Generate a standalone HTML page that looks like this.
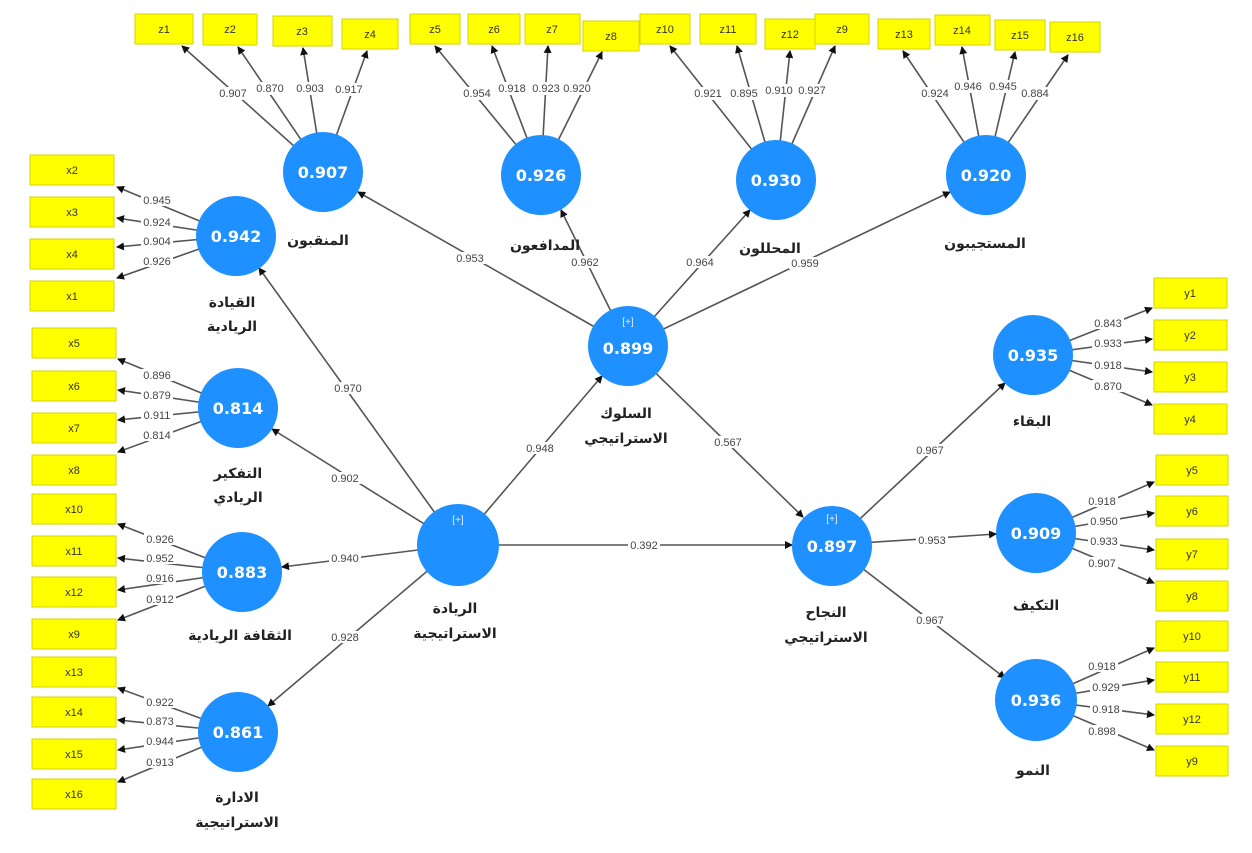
<!DOCTYPE html>
<html><head><meta charset="utf-8"><style>
html,body{margin:0;padding:0;background:#fff;}
svg{display:block;}
.b{fill:#ffff00;stroke:#d6d600;stroke-width:1;}
.bt{font-family:"Liberation Sans",sans-serif;font-size:11px;fill:#333;text-anchor:middle;}
.ln{stroke:#555;stroke-width:1.6;fill:none;}
.c{fill:#1e90ff;}
.ct{font-family:"DejaVu Sans","Liberation Sans",sans-serif;font-size:16px;font-weight:bold;fill:#fff;text-anchor:middle;}
.pl{font-family:"Liberation Sans",sans-serif;font-size:10px;fill:#e8f0ff;text-anchor:middle;}
.lb{font-family:"Liberation Sans",sans-serif;font-size:11px;fill:#444;text-anchor:middle;}
.ar{font-family:"DejaVu Sans","Noto Sans CJK SC",sans-serif;font-size:14px;font-weight:bold;fill:#222;text-anchor:middle;}
</style></head><body>
<svg width="1252" height="853" viewBox="0 0 1252 853" xmlns="http://www.w3.org/2000/svg">
<defs><marker id="a" markerWidth="8" markerHeight="8" refX="7" refY="4" orient="auto" markerUnits="userSpaceOnUse"><path d="M0,0 L8,4 L0,8 z" fill="#111"/></marker></defs>

<!-- boxes top -->
<g>
<rect class="b" x="135" y="14" width="58" height="30"/><text class="bt" x="164" y="33">z1</text>
<rect class="b" x="203" y="14" width="54" height="31"/><text class="bt" x="230" y="33">z2</text>
<rect class="b" x="273" y="16" width="59" height="30"/><text class="bt" x="302" y="35">z3</text>
<rect class="b" x="342" y="19" width="56" height="30"/><text class="bt" x="370" y="38">z4</text>
<rect class="b" x="410" y="14" width="50" height="30"/><text class="bt" x="435" y="33">z5</text>
<rect class="b" x="468" y="14" width="52" height="30"/><text class="bt" x="494" y="33">z6</text>
<rect class="b" x="525" y="14" width="55" height="30"/><text class="bt" x="552" y="33">z7</text>
<rect class="b" x="583" y="21" width="56" height="30"/><text class="bt" x="611" y="40">z8</text>
<rect class="b" x="640" y="14" width="50" height="30"/><text class="bt" x="665" y="33">z10</text>
<rect class="b" x="700" y="14" width="56" height="30"/><text class="bt" x="728" y="33">z11</text>
<rect class="b" x="765" y="19" width="50" height="30"/><text class="bt" x="790" y="38">z12</text>
<rect class="b" x="815" y="14" width="54" height="30"/><text class="bt" x="842" y="33">z9</text>
<rect class="b" x="878" y="19" width="52" height="30"/><text class="bt" x="904" y="38">z13</text>
<rect class="b" x="935" y="15" width="55" height="30"/><text class="bt" x="962" y="34">z14</text>
<rect class="b" x="995" y="20" width="50" height="30"/><text class="bt" x="1020" y="39">z15</text>
<rect class="b" x="1050" y="22" width="50" height="30"/><text class="bt" x="1075" y="41">z16</text>
</g>
<!-- boxes left -->
<g>
<rect class="b" x="30" y="155" width="84" height="30"/><text class="bt" x="72" y="174">x2</text>
<rect class="b" x="30" y="197" width="84" height="30"/><text class="bt" x="72" y="216">x3</text>
<rect class="b" x="30" y="239" width="84" height="30"/><text class="bt" x="72" y="258">x4</text>
<rect class="b" x="30" y="281" width="84" height="30"/><text class="bt" x="72" y="300">x1</text>
<rect class="b" x="32" y="328" width="84" height="30"/><text class="bt" x="74" y="347">x5</text>
<rect class="b" x="32" y="371" width="84" height="30"/><text class="bt" x="74" y="390">x6</text>
<rect class="b" x="32" y="413" width="84" height="30"/><text class="bt" x="74" y="432">x7</text>
<rect class="b" x="32" y="455" width="84" height="30"/><text class="bt" x="74" y="474">x8</text>
<rect class="b" x="32" y="494" width="84" height="30"/><text class="bt" x="74" y="513">x10</text>
<rect class="b" x="32" y="536" width="84" height="30"/><text class="bt" x="74" y="555">x11</text>
<rect class="b" x="32" y="577" width="84" height="30"/><text class="bt" x="74" y="596">x12</text>
<rect class="b" x="32" y="619" width="84" height="30"/><text class="bt" x="74" y="638">x9</text>
<rect class="b" x="32" y="657" width="84" height="30"/><text class="bt" x="74" y="676">x13</text>
<rect class="b" x="32" y="697" width="84" height="30"/><text class="bt" x="74" y="716">x14</text>
<rect class="b" x="32" y="739" width="84" height="30"/><text class="bt" x="74" y="758">x15</text>
<rect class="b" x="32" y="779" width="84" height="30"/><text class="bt" x="74" y="798">x16</text>
</g>
<!-- boxes right -->
<g>
<rect class="b" x="1154" y="278" width="73" height="30"/><text class="bt" x="1190" y="297">y1</text>
<rect class="b" x="1154" y="320" width="73" height="30"/><text class="bt" x="1190" y="339">y2</text>
<rect class="b" x="1154" y="362" width="73" height="30"/><text class="bt" x="1190" y="381">y3</text>
<rect class="b" x="1154" y="404" width="73" height="30"/><text class="bt" x="1190" y="423">y4</text>
<rect class="b" x="1156" y="455" width="72" height="30"/><text class="bt" x="1192" y="474">y5</text>
<rect class="b" x="1156" y="496" width="72" height="30"/><text class="bt" x="1192" y="515">y6</text>
<rect class="b" x="1156" y="539" width="72" height="30"/><text class="bt" x="1192" y="558">y7</text>
<rect class="b" x="1156" y="581" width="72" height="30"/><text class="bt" x="1192" y="600">y8</text>
<rect class="b" x="1156" y="621" width="72" height="30"/><text class="bt" x="1192" y="640">y10</text>
<rect class="b" x="1156" y="662" width="72" height="30"/><text class="bt" x="1192" y="681">y11</text>
<rect class="b" x="1156" y="704" width="72" height="30"/><text class="bt" x="1192" y="723">y12</text>
<rect class="b" x="1156" y="746" width="72" height="30"/><text class="bt" x="1192" y="765">y9</text>
</g>

<!-- lines -->
<g class="ln" marker-end="url(#a)">
<!-- 0.907 -->
<line x1="323" y1="172" x2="182" y2="46"/><line x1="323" y1="172" x2="238" y2="47"/><line x1="323" y1="172" x2="303" y2="48"/><line x1="323" y1="172" x2="367" y2="51"/>
<!-- 0.926 -->
<line x1="541" y1="175" x2="435" y2="46"/><line x1="541" y1="175" x2="492" y2="46"/><line x1="541" y1="175" x2="548" y2="46"/><line x1="541" y1="175" x2="602" y2="52"/>
<!-- 0.930 -->
<line x1="776" y1="180" x2="670" y2="46"/><line x1="776" y1="180" x2="737" y2="46"/><line x1="776" y1="180" x2="790" y2="51"/><line x1="776" y1="180" x2="835" y2="46"/>
<!-- 0.920 -->
<line x1="986" y1="175" x2="903" y2="51"/><line x1="986" y1="175" x2="962" y2="47"/><line x1="986" y1="175" x2="1015" y2="52"/><line x1="986" y1="175" x2="1068" y2="55"/>
<!-- left -->
<line x1="236" y1="236" x2="117" y2="187"/><line x1="236" y1="236" x2="117" y2="218"/><line x1="236" y1="236" x2="117" y2="247"/><line x1="236" y1="236" x2="117" y2="278"/>
<line x1="238" y1="408" x2="118" y2="359"/><line x1="238" y1="408" x2="118" y2="390"/><line x1="238" y1="408" x2="118" y2="420"/><line x1="238" y1="408" x2="118" y2="452"/>
<line x1="242" y1="572" x2="118" y2="524"/><line x1="242" y1="572" x2="118" y2="558"/><line x1="242" y1="572" x2="118" y2="590"/><line x1="242" y1="572" x2="118" y2="620"/>
<line x1="238" y1="732" x2="118" y2="688"/><line x1="238" y1="732" x2="118" y2="720"/><line x1="238" y1="732" x2="118" y2="750"/><line x1="238" y1="732" x2="118" y2="782"/>
<!-- right -->
<line x1="1033" y1="355" x2="1152" y2="308"/><line x1="1033" y1="355" x2="1152" y2="339"/><line x1="1033" y1="355" x2="1152" y2="372"/><line x1="1033" y1="355" x2="1152" y2="405"/>
<line x1="1036" y1="533" x2="1154" y2="482"/><line x1="1036" y1="533" x2="1154" y2="513"/><line x1="1036" y1="533" x2="1154" y2="550"/><line x1="1036" y1="533" x2="1154" y2="583"/>
<line x1="1036" y1="700" x2="1154" y2="648"/><line x1="1036" y1="700" x2="1154" y2="680"/><line x1="1036" y1="700" x2="1154" y2="715"/><line x1="1036" y1="700" x2="1154" y2="750"/>
<!-- structural -->
<line x1="458" y1="545" x2="259" y2="268"/>
<line x1="458" y1="545" x2="272" y2="429"/>
<line x1="458" y1="545" x2="282" y2="567"/>
<line x1="458" y1="545" x2="268" y2="706"/>
<line x1="458" y1="545" x2="602" y2="376"/>
<line x1="458" y1="545" x2="792" y2="545"/>
<line x1="628" y1="346" x2="358" y2="192"/>
<line x1="628" y1="346" x2="561" y2="210"/>
<line x1="628" y1="346" x2="750" y2="210"/>
<line x1="628" y1="346" x2="950" y2="192"/>
<line x1="628" y1="346" x2="803" y2="517"/>
<line x1="832" y1="545" x2="1005" y2="383"/>
<line x1="832" y1="545" x2="996" y2="534"/>
<line x1="832" y1="545" x2="1005" y2="678"/>
</g>

<!-- path labels -->
<g>
<g fill="#fff">
<rect x="216" y="87" width="34" height="13"/><rect x="254" y="82" width="32" height="13"/><rect x="294" y="82" width="32" height="13"/><rect x="333" y="83" width="32" height="13"/>
<rect x="461" y="87" width="32" height="13"/><rect x="497" y="82" width="30" height="13"/><rect x="531" y="82" width="30" height="13"/><rect x="562" y="82" width="30" height="13"/>
<rect x="692" y="87" width="32" height="13"/><rect x="728" y="87" width="32" height="13"/><rect x="763" y="84" width="32" height="13"/><rect x="796" y="84" width="32" height="13"/>
<rect x="919" y="87" width="32" height="13"/><rect x="952" y="80" width="32" height="13"/><rect x="987" y="80" width="32" height="13"/><rect x="1019" y="87" width="32" height="13"/>
</g>
<text class="lb" x="233" y="97">0.907</text><text class="lb" x="270" y="92">0.870</text><text class="lb" x="310" y="92">0.903</text><text class="lb" x="349" y="93">0.917</text>
<text class="lb" x="477" y="97">0.954</text><text class="lb" x="512" y="92">0.918</text><text class="lb" x="546" y="92">0.923</text><text class="lb" x="577" y="92">0.920</text>
<text class="lb" x="708" y="97">0.921</text><text class="lb" x="744" y="97">0.895</text><text class="lb" x="779" y="94">0.910</text><text class="lb" x="812" y="94">0.927</text>
<text class="lb" x="935" y="97">0.924</text><text class="lb" x="968" y="90">0.946</text><text class="lb" x="1003" y="90">0.945</text><text class="lb" x="1035" y="97">0.884</text>

<g fill="#fff">
<rect x="141" y="194" width="32" height="12"/><rect x="141" y="216" width="32" height="12"/><rect x="141" y="235" width="32" height="12"/><rect x="141" y="255" width="32" height="12"/>
<rect x="141" y="369" width="32" height="12"/><rect x="141" y="389" width="32" height="12"/><rect x="141" y="409" width="32" height="12"/><rect x="141" y="429" width="32" height="12"/>
<rect x="144" y="533" width="32" height="12"/><rect x="144" y="552" width="32" height="12"/><rect x="144" y="572" width="32" height="12"/><rect x="144" y="593" width="32" height="12"/>
<rect x="144" y="696" width="32" height="12"/><rect x="144" y="715" width="32" height="12"/><rect x="144" y="735" width="32" height="12"/><rect x="144" y="756" width="32" height="12"/>
</g>
<text class="lb" x="157" y="204">0.945</text><text class="lb" x="157" y="226">0.924</text><text class="lb" x="157" y="245">0.904</text><text class="lb" x="157" y="265">0.926</text>
<text class="lb" x="157" y="379">0.896</text><text class="lb" x="157" y="399">0.879</text><text class="lb" x="157" y="419">0.911</text><text class="lb" x="157" y="439">0.814</text>
<text class="lb" x="160" y="543">0.926</text><text class="lb" x="160" y="562">0.952</text><text class="lb" x="160" y="582">0.916</text><text class="lb" x="160" y="603">0.912</text>
<text class="lb" x="160" y="706">0.922</text><text class="lb" x="160" y="725">0.873</text><text class="lb" x="160" y="745">0.944</text><text class="lb" x="160" y="766">0.913</text>

<g fill="#fff">
<rect x="1092" y="317" width="32" height="12"/><rect x="1092" y="337" width="32" height="12"/><rect x="1092" y="359" width="32" height="12"/><rect x="1092" y="380" width="32" height="12"/>
<rect x="1086" y="495" width="32" height="12"/><rect x="1088" y="515" width="32" height="12"/><rect x="1088" y="535" width="32" height="12"/><rect x="1086" y="557" width="32" height="12"/>
<rect x="1086" y="660" width="32" height="12"/><rect x="1090" y="681" width="32" height="12"/><rect x="1090" y="703" width="32" height="12"/><rect x="1086" y="725" width="32" height="12"/>
</g>
<text class="lb" x="1108" y="327">0.843</text><text class="lb" x="1108" y="347">0.933</text><text class="lb" x="1108" y="369">0.918</text><text class="lb" x="1108" y="390">0.870</text>
<text class="lb" x="1102" y="505">0.918</text><text class="lb" x="1104" y="525">0.950</text><text class="lb" x="1104" y="545">0.933</text><text class="lb" x="1102" y="567">0.907</text>
<text class="lb" x="1102" y="670">0.918</text><text class="lb" x="1106" y="691">0.929</text><text class="lb" x="1106" y="713">0.918</text><text class="lb" x="1102" y="735">0.898</text>

<g fill="#fff">
<rect x="332" y="382" width="32" height="12"/><rect x="329" y="472" width="32" height="12"/><rect x="329" y="552" width="32" height="12"/><rect x="329" y="631" width="32" height="12"/>
<rect x="524" y="442" width="32" height="12"/><rect x="628" y="539" width="32" height="12"/>
<rect x="454" y="252" width="32" height="12"/><rect x="569" y="256" width="32" height="12"/><rect x="684" y="256" width="32" height="12"/><rect x="789" y="257" width="32" height="12"/>
<rect x="712" y="436" width="32" height="12"/><rect x="914" y="444" width="32" height="12"/><rect x="916" y="534" width="32" height="12"/><rect x="914" y="614" width="32" height="12"/>
</g>
<text class="lb" x="348" y="392">0.970</text><text class="lb" x="345" y="482">0.902</text><text class="lb" x="345" y="562">0.940</text><text class="lb" x="345" y="641">0.928</text>
<text class="lb" x="540" y="452">0.948</text><text class="lb" x="644" y="549">0.392</text>
<text class="lb" x="470" y="262">0.953</text><text class="lb" x="585" y="266">0.962</text><text class="lb" x="700" y="266">0.964</text><text class="lb" x="805" y="267">0.959</text>
<text class="lb" x="728" y="446">0.567</text><text class="lb" x="930" y="454">0.967</text><text class="lb" x="932" y="544">0.953</text><text class="lb" x="930" y="624">0.967</text>
</g>

<!-- circles -->
<g>
<circle class="c" cx="323" cy="172" r="40"/><text class="ct" x="323" y="178">0.907</text>
<circle class="c" cx="541" cy="175" r="40"/><text class="ct" x="541" y="181">0.926</text>
<circle class="c" cx="776" cy="180" r="40"/><text class="ct" x="776" y="186">0.930</text>
<circle class="c" cx="986" cy="175" r="40"/><text class="ct" x="986" y="181">0.920</text>
<circle class="c" cx="236" cy="236" r="40"/><text class="ct" x="236" y="242">0.942</text>
<circle class="c" cx="238" cy="408" r="40"/><text class="ct" x="238" y="414">0.814</text>
<circle class="c" cx="242" cy="572" r="40"/><text class="ct" x="242" y="578">0.883</text>
<circle class="c" cx="238" cy="732" r="40"/><text class="ct" x="238" y="738">0.861</text>
<circle class="c" cx="628" cy="346" r="40"/><text class="ct" x="628" y="354">0.899</text><text class="pl" x="628" y="325">[+]</text>
<circle class="c" cx="458" cy="545" r="41"/><text class="pl" x="458" y="523">[+]</text>
<circle class="c" cx="832" cy="546" r="40"/><text class="ct" x="832" y="552">0.897</text><text class="pl" x="832" y="522">[+]</text>
<circle class="c" cx="1033" cy="355" r="40"/><text class="ct" x="1033" y="361">0.935</text>
<circle class="c" cx="1036" cy="533" r="40"/><text class="ct" x="1036" y="539">0.909</text>
<circle class="c" cx="1036" cy="700" r="41"/><text class="ct" x="1036" y="706">0.936</text>
</g>

<!-- Arabic labels -->
<g>
<text class="ar" x="318" y="245">المنقبون</text>
<text class="ar" x="545" y="250">المدافعون</text>
<text class="ar" x="770" y="253">المحللون</text>
<text class="ar" x="985" y="248">المستجيبون</text>
<text class="ar" x="232" y="307">القيادة</text><text class="ar" x="232" y="331">الريادية</text>
<text class="ar" x="238" y="478">التفكير</text><text class="ar" x="238" y="502">الريادي</text>
<text class="ar" x="240" y="640">الثقافة الريادية</text>
<text class="ar" x="237" y="802">الادارة</text><text class="ar" x="237" y="827">الاستراتيجية</text>
<text class="ar" x="626" y="418">السلوك</text><text class="ar" x="626" y="443">الاستراتيجي</text>
<text class="ar" x="455" y="613">الريادة</text><text class="ar" x="455" y="638">الاستراتيجية</text>
<text class="ar" x="826" y="617">النجاح</text><text class="ar" x="826" y="642">الاستراتيجي</text>
<text class="ar" x="1032" y="426">البقاء</text>
<text class="ar" x="1036" y="610">التكيف</text>
<text class="ar" x="1033" y="775">النمو</text>
</g>
</svg>
</body></html>
